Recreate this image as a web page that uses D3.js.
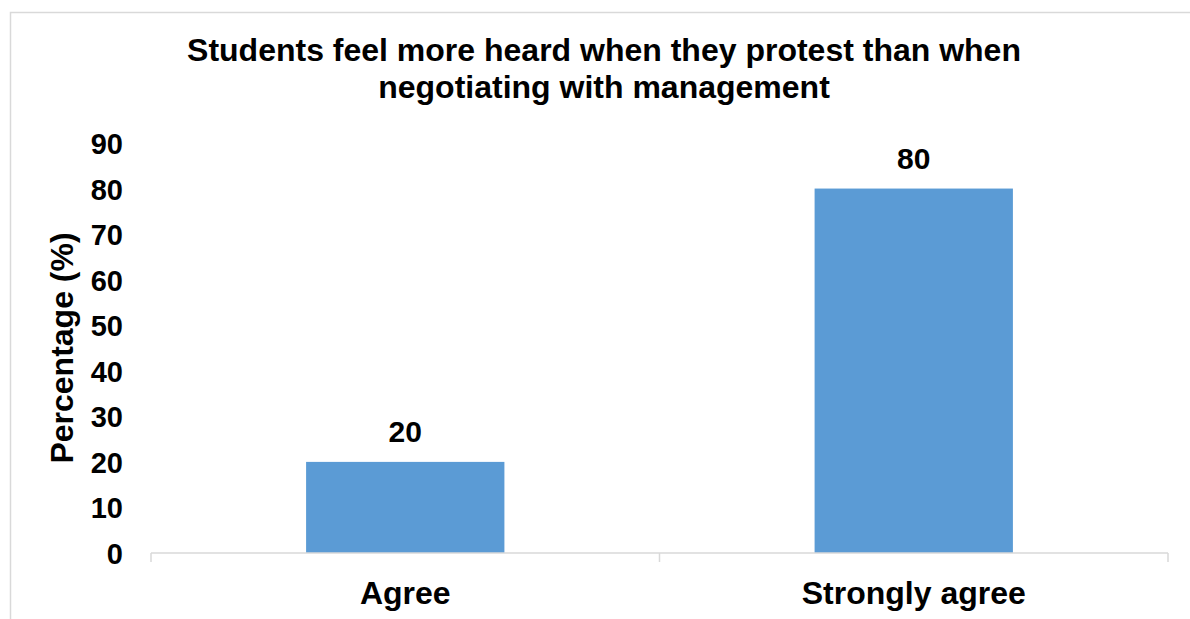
<!DOCTYPE html>
<html><head><meta charset="utf-8">
<script src="https://cdn.jsdelivr.net/npm/d3@7"></script>
<style>body{margin:0;background:#fff}svg{display:block}text{font-family:"Liberation Sans",Arial,sans-serif;font-weight:bold;fill:#000}</style>
</head><body>
<svg id="c" width="1190" height="619"></svg>
<script>
const categories = ["Agree", "Strongly agree"];
const values = [20, 80];
const yTicks = [0, 10, 20, 30, 40, 50, 60, 70, 80, 90];
const titleLines = ["Students feel more heard when they protest than when", "negotiating with management"];
const yLabel = "Percentage (%)";

const svg = d3.select("#c");
const m = {left: 151, right: 1168, top: 143, bottom: 553};
svg.append("rect").attr("x", 10.5).attr("y", 12.5).attr("width", 1300).attr("height", 700)
  .attr("fill", "#fff").attr("stroke", "#d9d9d9").attr("stroke-width", 1.5);

const x = d3.scaleBand().domain(categories).range([m.left, m.right]).paddingInner(0.61).paddingOuter(0.305);
const y = d3.scaleLinear().domain([0, 90]).range([m.bottom, m.top]);

svg.selectAll(".bar").data(values).enter().append("rect")
  .attr("x", (d, i) => x(categories[i])).attr("width", x.bandwidth())
  .attr("y", d => y(d)).attr("height", d => y(0) - y(d)).attr("fill", "#5b9bd5");

svg.selectAll(".vl").data(values).enter().append("text")
  .attr("x", (d, i) => x(categories[i]) + x.bandwidth() / 2).attr("y", d => y(d) - 20)
  .attr("text-anchor", "middle").attr("font-size", 30).text(d => d);

// x axis
const xAxis = svg.append("g").attr("transform", `translate(0,${m.bottom})`);
xAxis.append("line").attr("x1", m.left).attr("x2", m.right).attr("stroke", "#d9d9d9").attr("stroke-width", 1.5);
const bounds = [m.left, ...categories.map(c => x(c) + x.bandwidth() / 2 + x.step() / 2)];
xAxis.selectAll(".tk").data(bounds).enter().append("line")
  .attr("x1", d => d).attr("x2", d => d).attr("y1", 0).attr("y2", 9).attr("stroke", "#d9d9d9").attr("stroke-width", 1.5);
xAxis.selectAll(".xl").data(categories).enter().append("text")
  .attr("x", d => x(d) + x.bandwidth() / 2).attr("y", 51).attr("text-anchor", "middle")
  .attr("font-size", 32).text(d => d);

// y axis
const yAxis = d3.axisLeft(y).tickValues(yTicks).tickSize(0).tickPadding(0);
const yg = svg.append("g").attr("transform", `translate(123,0)`).call(yAxis);
yg.select(".domain").remove();
yg.selectAll("text").attr("font-size", 29).attr("font-family", "Liberation Sans, Arial, sans-serif").attr("font-weight", "bold").attr("fill", "#000").attr("dy", "0.36em");

svg.append("text").attr("transform", `translate(73,${(m.top + m.bottom) / 2}) rotate(-90)`)
  .attr("text-anchor", "middle").attr("font-size", 32).text(yLabel);

svg.selectAll(".tt").data(titleLines).enter().append("text")
  .attr("x", 604).attr("y", (d, i) => 61 + i * 37).attr("text-anchor", "middle")
  .attr("font-size", 32).text(d => d);
</script>
</body></html>
